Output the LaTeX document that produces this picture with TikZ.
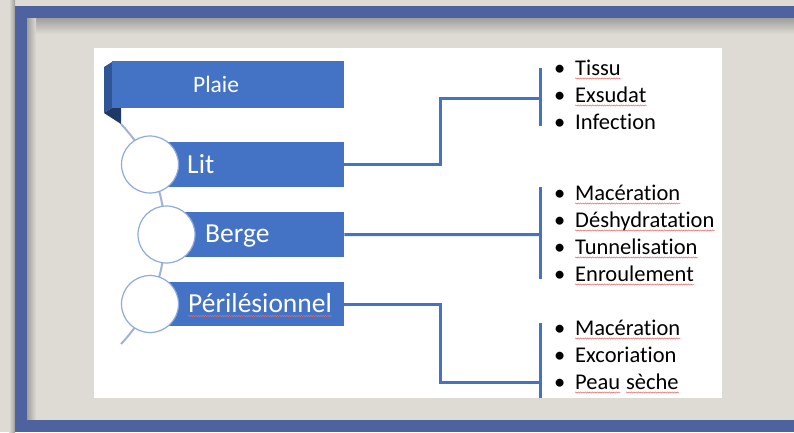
\documentclass[tikz,border=0pt]{standalone}
\usepackage{fontspec}
\setmainfont{Carlito}[Ligatures=NoCommon]
\usetikzlibrary{decorations.pathmorphing}
\definecolor{bgcol}{HTML}{DEDBD5}
\definecolor{framecol}{HTML}{4F62A0}
\definecolor{barcol}{HTML}{4472C4}
\definecolor{foldcol}{HTML}{2F5597}
\definecolor{folddark}{HTML}{1F3864}
\definecolor{ringcol}{HTML}{8FAADC}
\definecolor{arccol}{HTML}{A3B3D2}
\definecolor{shadowcol}{HTML}{A09E9A}
\definecolor{squigcol}{HTML}{E86A6A}
\newcommand\wavyline[1]{\draw[squig] ([yshift=-3.5pt]#1.base west) -- ([yshift=-3.5pt]#1.base east);}
\begin{document}
\begin{tikzpicture}[x=1pt,y=-1pt,
  bar/.style={fill=barcol, draw=none, anchor=north west, inner sep=0},
  ring/.style={circle, fill=white, draw=ringcol, line width=1.2pt, minimum size=57pt, inner sep=0},
  barlabel/.style={text=white, anchor=base west, inner sep=0, font=\fontsize{27.5}{31}\selectfont},
  conn/.style={draw=barcol, line width=3pt},
  bul/.style={anchor=base west, inner sep=0, font=\fontsize{22.5}{26}\selectfont},
  squig/.style={draw=squigcol, line width=0.5pt, decorate, decoration={snake, amplitude=0.6pt, segment length=2.4pt}}]
\useasboundingbox (0,0) rectangle (794,432);
\clip (0,0) rectangle (794,432);
% slide background and frame
\fill[bgcol] (0,0) rectangle (794,432);
\shade[left color=bgcol, right color=shadowcol] (9,0) rectangle (15,432);
\shade[top color=shadowcol, bottom color=bgcol] (27,18) rectangle (794,34);
\shade[left color=shadowcol, right color=bgcol] (27,18) rectangle (36,420);
\fill[framecol] (15,6) rectangle (794,18);
\fill[framecol] (15,6) rectangle (27,432);
\fill[framecol] (15,420) rectangle (794,432);
% white panel
\fill[white] (94,48) rectangle (722,398);
% ribbon fold of the title bar
\fill[foldcol] (104,67) -- (112,62) -- (112,108) -- (104,113) -- cycle;
\fill[folddark] (104,113) -- (112,108) -- (121,108) -- (121,124) -- cycle;
% spine through the circles
\draw[arccol, line width=2pt] (5.5,234) ++(-43.6:159.5) arc[start angle=-43.6, end angle=43.6, radius=159.5];
% bars
\node[bar, minimum width=232pt, minimum height=47pt] (plaie) at (112,61) {};
\node[bar, minimum width=194pt, minimum height=45pt] (lit) at (150,142) {};
\node[bar, minimum width=178pt, minimum height=45pt] (berge) at (166,212) {};
\node[bar, minimum width=194pt, minimum height=44pt] (peri) at (150,282) {};
% circles
\node[ring] (clit) at (150,164.5) {};
\node[ring] (cberge) at (166.5,234.5) {};
\node[ring] (cperi) at (150,304) {};
% bar labels
\node[text=white, anchor=base west, inner sep=0, font=\fontsize{23.5}{27}\selectfont] (tplaie) at (193,92) {Plaie};
\node[barlabel] (tlit) at (187,173.5) {Lit};
\node[barlabel] (tberge) at (205,242.5) {Berge};
\node[barlabel] (tperi) at (188,312.5) {Périlésionnel};
\wavyline{tperi}
% brackets
\coordinate (blit) at (540,98);
\coordinate (blit-t) at (540,68);
\coordinate (blit-b) at (540,126);
\coordinate (bberge) at (540,234.5);
\coordinate (bberge-t) at (540,187);
\coordinate (bberge-b) at (540,279);
\coordinate (bperi) at (540,382);
\coordinate (bperi-t) at (540,323);
\coordinate (bperi-b) at (540,398);
\draw[conn] (blit-t) -- (blit-b);
\draw[conn] (bberge-t) -- (bberge-b);
\draw[conn] (bperi-t) -- (bperi-b);
% connectors
\draw[conn] (lit.east) -- ++(96,0) |- (blit);
\draw[conn] (berge.east) -- (bberge);
\draw[conn] (peri.east) -- ++(96,0) |- (bperi);
% bullet lists
\foreach \y in {75,102,129, 200,227,254,281, 335,362,389}
  \node[bul] at (554,\y) {•};
\node[bul] (a1) at (575,75) {Tissu}; \wavyline{a1}
\node[bul] (a2) at (575,102) {Exsudat}; \wavyline{a2}
\node[bul] (a3) at (575,129) {Infection};
\node[bul] (b1) at (575,200) {Macération}; \wavyline{b1}
\node[bul] (b2) at (575,227) {Déshydratation}; \wavyline{b2}
\node[bul] (b3) at (575,254) {Tunnelisation}; \wavyline{b3}
\node[bul] (b4) at (575,281) {Enroulement}; \wavyline{b4}
\node[bul] (c1) at (575,335) {Macération}; \wavyline{c1}
\node[bul] (c2) at (575,362) {Excoriation};
\node[bul] (c3) at (575,389) {Peau}; \wavyline{c3}
\node[bul] (c4) at ([xshift=5.5pt]c3.base east) {sèche}; \wavyline{c4}
\end{tikzpicture}
\end{document}
